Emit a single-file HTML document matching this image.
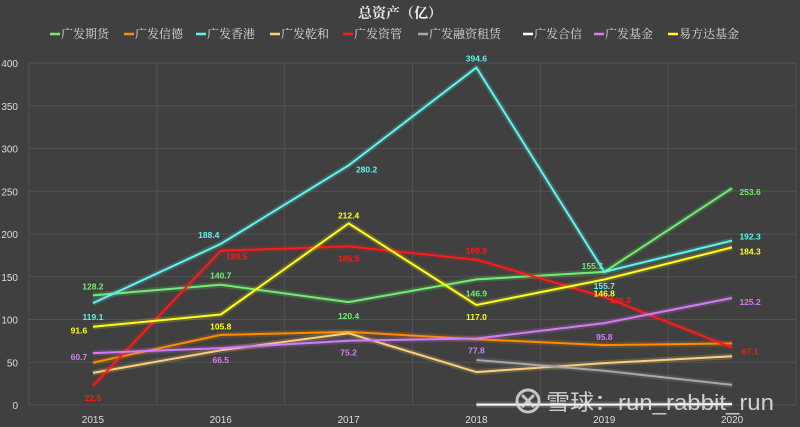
<!DOCTYPE html>
<html><head><meta charset="utf-8">
<style>
html,body{margin:0;padding:0;background:#404040;}
svg{display:block;font-family:"Liberation Sans","Noto Sans CJK SC",sans-serif;}
</style></head>
<body>
<svg id="chart" width="800" height="427" viewBox="0 0 800 427">
<rect width="800" height="427" fill="#404040"/>
<text x="400" y="18" text-anchor="middle" fill="#eee" font-size="14" font-weight="bold" font-family="'Noto Serif CJK SC','Noto Sans CJK SC',serif">总资产（亿）</text>
<g id="grid"></g><g id="axes"></g><g id="legend"></g><g id="series"></g><g id="labels"></g>
<g opacity="0.85">
<circle cx="528" cy="401" r="11" fill="none" stroke="#ddd" stroke-width="3"/>
<path d="M522 395 L534 407 M534 395 L522 407" stroke="#ddd" stroke-width="3"/>
<text x="546" y="410" fill="#e8e8e8" font-size="22" font-family="'Liberation Sans','Noto Sans CJK SC',sans-serif" textLength="228" lengthAdjust="spacingAndGlyphs">雪球：run_rabbit_run</text>
</g>
</svg>
<script>
const years = ["2015","2016","2017","2018","2019","2020"];
const yTicks = [0,50,100,150,200,250,300,350,400];
const names = ["广发期货","广发信德","广发香港","广发乾和","广发资管","广发融资租赁","广发合信","广发基金","易方达基金"];
const colors = ["#6ef06e","#ff8c00","#5ef5f0","#ffd07a","#ff1a1a","#a8a8a8","#ffffff","#d47cf5","#ffff1a"];
const qihuo = [128.2,140.7,120.4,146.9,155.7,253.6];
const xinde = [49.5,82,85.5,77,70,72];
const xianggang = [119.1,188.4,280.2,394.6,155.7,192.3];
const qianhe = [37.5,64,84,38.5,49,57];
const ziguan = [22.5,180.5,185.5,169.9,126.3,67.1];
const zulin = [null,null,null,52.6,40,23.5];
const hexin = [null,null,null,0.5,0.5,1];
const jijin = [60.7,66.5,75.2,77.8,95.8,125.2];
const efund = [91.6,105.8,212.4,117.0,146.8,184.3];
const allSeries = [qihuo,xinde,xianggang,qianhe,ziguan,zulin,hexin,jijin,efund];
const labeled = [true,false,true,false,true,false,false,true,true];
const offs = {
 0:[[0,-9],[0,-9],[0,14],[0,14],[-12,-6],[18,4]],
 2:[[0,14],[-12,-9],[18,4],[0,-9],[0,14],[18,-4]],
 4:[[0,12],[16,6],[0,12],[0,-9],[16,3],[18,4]],
 7:[[-14,4],[0,12],[0,12],[0,12],[0,14],[18,4]],
 8:[[-14,4],[0,12],[0,-8],[0,12],[0,14],[18,4]]
};
const L=29,R=796,T=63,B=405,ymax=400;
const step=(R-L)/years.length;
const xs=i=>L+step*(i+0.5);
const ys=v=>B-(v/ymax)*(B-T);
const NS="http://www.w3.org/2000/svg";
function mk(tag,attrs,parent){const e=document.createElementNS(NS,tag);for(const k in attrs)e.setAttribute(k,attrs[k]);parent.appendChild(e);return e;}
const grid=document.getElementById('grid'),axes=document.getElementById('axes'),leg=document.getElementById('legend'),ser=document.getElementById('series'),lab=document.getElementById('labels');
yTicks.forEach(t=>{
 const l=mk('line',{x1:L,x2:R,y1:ys(t),y2:ys(t),stroke:'#525252','stroke-width':1},grid);
 
 
 const tx=mk('text',{x:18,y:ys(t)+4,'text-anchor':'end',fill:'#ddd','font-size':10},axes);
 tx.textContent=t;
 
 
});
for(let i=0;i<=years.length;i++){
 const l=mk('line',{x1:L+step*i,x2:L+step*i,y1:T,y2:B,stroke:'#525252','stroke-width':1},grid);
 
 
}
years.forEach((y,i)=>{
 const tx=mk('text',{x:xs(i),y:423,'text-anchor':'middle',fill:'#ddd','font-size':10},axes);
 tx.textContent=y;
 
 
});
const lx=[50,124,196,270,343,418,523,594,668];
names.forEach((n,i)=>{
 const g=mk('g',{},leg);
 
 
 mk('line',{x1:lx[i],x2:lx[i]+10,y1:34,y2:34,stroke:colors[i],'stroke-width':2.5},g);
 const t=mk('text',{x:lx[i]+11,y:38,fill:'#ddd','font-size':12,'font-family':"'Noto Serif CJK SC','Noto Sans CJK SC',serif"},g);
 t.textContent=n;
});
allSeries.forEach((arr,s)=>{
 const pts=[];arr.forEach((v,i)=>{if(v!==null)pts.push(xs(i).toFixed(1)+','+ys(v).toFixed(1));});
 const glow=mk('polyline',{points:pts.join(' '),fill:'none',stroke:colors[s],'stroke-opacity':0.18,'stroke-width':6,'stroke-linejoin':'round'},ser);
 
 
 const p=mk('polyline',{points:pts.join(' '),fill:'none',stroke:colors[s],'stroke-width':2,'stroke-linejoin':'round'},ser);
 
 
 if(labeled[s]){
  arr.forEach((v,i)=>{
   if(v===null)return;
   const o=offs[s][i];
   const t=mk('text',{x:xs(i)+o[0],y:ys(v)+o[1]+3,'text-anchor':'middle',fill:colors[s],'font-size':8.5,'font-weight':'bold'},lab);
   t.textContent=v.toFixed(1);
   
   
  });
 }
});
</script>
</body></html>
